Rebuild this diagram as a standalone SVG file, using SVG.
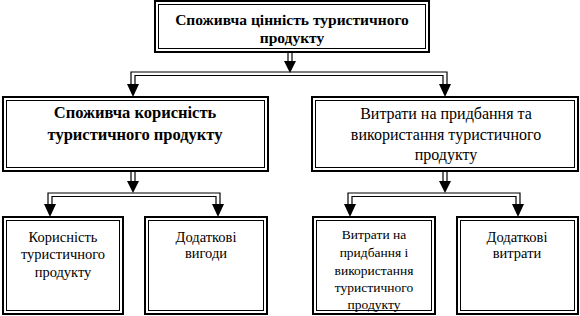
<svg xmlns="http://www.w3.org/2000/svg" width="580" height="316" viewBox="0 0 580 316" font-family="Liberation Serif, Tinos, DejaVu Serif, serif">
<style>
.o{fill:#fff;stroke:#000;stroke-width:2}
.i{fill:none;stroke:#000;stroke-width:1}
.c{fill:none;stroke:#000;stroke-width:1.2}
.a{fill:#000}
text{font-family:'Liberation Serif',Tinos,'DejaVu Serif',serif;text-anchor:middle;fill:#000}
.b{font-weight:bold;font-size:15.5px}
.b2{font-weight:bold;font-size:16.5px}
.r{font-size:16px}
.s{font-size:14.5px}
.t{font-size:13.5px}
</style>
<rect width="580" height="316" fill="#fff"/>
<g id="connectors">
<path class="c" d="M288,53V62M292,53V62"/>
<polygon class="a" points="284,61 296,61 290,73"/>
<path class="c" d="M131,85V72H447V85M135,85V75.5H443V85"/>
<polygon class="a" points="127,84 139,84 133,97"/>
<polygon class="a" points="439,84 451,84 445,97"/>
<path class="c" d="M131,172V182M135,172V182"/>
<polygon class="a" points="127,181 139,181 133,193"/>
<path class="c" d="M48,205V193H220V205M52,205V196.5H216V205"/>
<polygon class="a" points="44,204 56,204 50,217"/>
<polygon class="a" points="212,204 224,204 218,217"/>
<path class="c" d="M443,172V182M447,172V182"/>
<polygon class="a" points="439,181 451,181 445,193"/>
<path class="c" d="M348,205V193H520V205M352,205V196.5H516V205"/>
<polygon class="a" points="344,204 356,204 350,217"/>
<polygon class="a" points="512,204 524,204 518,217"/>
</g>
<g id="n1">
<rect class="o" x="155" y="1" width="274" height="51"/>
<rect class="i" x="158.5" y="4.5" width="267" height="44"/>
<text class="b" x="292" y="25">Споживча цінність туристичного</text>
<text class="b" x="292" y="43">продукту</text>
</g>
<g id="n2">
<rect class="o" x="3" y="97" width="265" height="74"/>
<rect class="i" x="6.5" y="100.5" width="258" height="67"/>
<text class="b2" x="135" y="118">Споживча корисність</text>
<text class="b2" x="135" y="140">туристичного продукту</text>
</g>
<g id="n3">
<rect class="o" x="312" y="97" width="266" height="74"/>
<rect class="i" x="315.5" y="100.5" width="259" height="67"/>
<text class="r" x="446" y="119">Витрати на придбання та</text>
<text class="r" x="446" y="140">використання туристичного</text>
<text class="r" x="446" y="160">продукту</text>
</g>
<g id="n4">
<rect class="o" x="3" y="217" width="120" height="97"/>
<rect class="i" x="6.5" y="220.5" width="113" height="90"/>
<text class="s" x="63" y="242">Корисність</text>
<text class="s" x="63" y="259">туристичного</text>
<text class="s" x="63" y="277">продукту</text>
</g>
<g id="n5">
<rect class="o" x="145" y="217" width="122" height="97"/>
<rect class="i" x="148.5" y="220.5" width="115" height="90"/>
<text class="s" x="206" y="242">Додаткові</text>
<text class="s" x="206" y="258">вигоди</text>
</g>
<g id="n6">
<rect class="o" x="313" y="217" width="122" height="97"/>
<rect class="i" x="316.5" y="220.5" width="115" height="90"/>
<text class="t" x="374" y="239">Витрати на</text>
<text class="t" x="374" y="257">придбання і</text>
<text class="t" x="374" y="275">використання</text>
<text class="t" x="374" y="292">туристичного</text>
<text class="t" x="374" y="309">продукту</text>
</g>
<g id="n7">
<rect class="o" x="457" y="217" width="121" height="97"/>
<rect class="i" x="460.5" y="220.5" width="114" height="90"/>
<text class="s" x="517" y="242">Додаткові</text>
<text class="s" x="517" y="258">витрати</text>
</g>
</svg>
